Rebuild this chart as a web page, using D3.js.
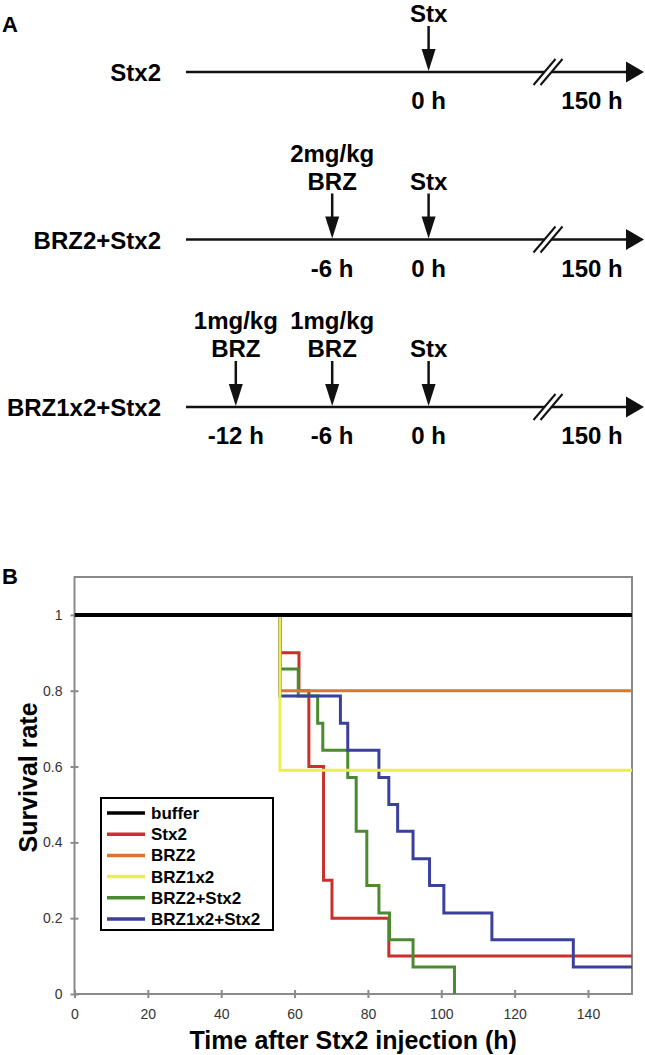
<!DOCTYPE html>
<html>
<head>
<meta charset="utf-8">
<script src="https://cdn.jsdelivr.net/npm/d3@7"></script>
<style>
  html, body { margin: 0; padding: 0; background: #fff; }
  svg { display: block; }
  text { font-family: "Liberation Sans", Arial, Helvetica, sans-serif; }
</style>
</head>
<body>
<svg id="chart" width="645" height="1055"></svg>
<script>
// ---------- Panel A data ----------
const timelineRows = ["Stx2", "BRZ2+Stx2", "BRZ1x2+Stx2"];
const eventRow   = [0, 1, 1, 2, 2, 2];
const eventTime  = [0, -6, 0, -12, -6, 0];
const eventDose  = ["", "2mg/kg", "", "1mg/kg", "1mg/kg", ""];
const eventAgent = ["Stx", "BRZ", "Stx", "BRZ", "BRZ", "Stx"];
const endTimeLabel = "150 h";

// ---------- Panel B data ----------
const seriesNames  = ["buffer", "Stx2", "BRZ2", "BRZ1x2", "BRZ2+Stx2", "BRZ1x2+Stx2"];
const seriesColors = ["#000000", "#c9302b", "#d8782e", "#ecec55", "#4c8a31", "#3b409c"];
const bufferTimes = [0];
const bufferSurv  = [1];
const stx2Times = [0, 56, 61.2, 63.9, 67.9, 70.2, 85.7];
const stx2Surv  = [1, 0.9, 0.8, 0.6, 0.3, 0.2, 0.1];
const brz2Times = [0, 56];
const brz2Surv  = [1, 0.8];
const brz1x2Times = [0, 56];
const brz1x2Surv  = [1, 0.59];
const brz2StxTimes = [0, 56, 61, 66.3, 67.7, 74.5, 76.8, 79.7, 83.0, 85.9, 92.3, 103.6];
const brz2StxSurv  = [1, 0.857, 0.786, 0.714, 0.643, 0.571, 0.429, 0.286, 0.214, 0.143, 0.071, 0];
const brz1x2StxTimes = [0, 56, 72.5, 74.5, 83.0, 85.7, 88.1, 92.3, 96.8, 100.7, 113.8, 136];
const brz1x2StxSurv  = [1, 0.786, 0.714, 0.643, 0.571, 0.5, 0.429, 0.357, 0.286, 0.214, 0.143, 0.071];
const xTicks = [0, 20, 40, 60, 80, 100, 120, 140];
const yTicks = [0, 0.2, 0.4, 0.6, 0.8, 1];
const yTickLabels = ["0", "0.2", "0.4", "0.6", "0.8", "1"];
const xMax = 152, yMax = 1.1;
const xTitle = "Time after Stx2 injection (h)";
const yTitle = "Survival rate";

const svg = d3.select("#chart");

// ================= Panel A =================
svg.append("text").attr("x", 2).attr("y", 32).attr("font-size", 22).attr("font-weight", "bold").text("A");

const tx = d3.scaleLinear().domain([-12, 0]).range([235.8, 428.6]);
const ty = d3.scaleLinear().domain([0, 2]).range([72, 407]);
const lineStart = 186, lineTip = 644;
const fsA = 24;

const gA = svg.append("g");
timelineRows.forEach((name, i) => {
  const y = ty(i);
  gA.append("text").attr("x", 161).attr("y", y + 9).attr("text-anchor", "end")
    .attr("font-size", fsA).attr("font-weight", "bold").text(name);
  gA.append("line").attr("x1", lineStart).attr("x2", lineTip - 14).attr("y1", y).attr("y2", y)
    .attr("stroke", "#111").attr("stroke-width", 2.5);
  gA.append("path").attr("d", `M${lineTip - 18},${y - 10.5} L${lineTip},${y} L${lineTip - 18},${y + 10.5} Z`)
    .attr("fill", "#111");
  // break mark
  const bx = 548;
  gA.append("path").attr("d", `M${bx - 14},${y + 13} L${bx + 8},${y - 13} L${bx + 15},${y - 13} L${bx - 7},${y + 13} Z`)
    .attr("fill", "#fff");
  [-3.5, 3.5].forEach(o => {
    gA.append("line").attr("x1", bx + o - 11).attr("y1", y + 13).attr("x2", bx + o + 11).attr("y2", y - 13)
      .attr("stroke", "#111").attr("stroke-width", 2);
  });
  gA.append("text").attr("x", lineTip - 52).attr("y", y + 37).attr("text-anchor", "middle")
    .attr("font-size", fsA).attr("font-weight", "bold").text(endTimeLabel);
});

eventTime.forEach((t, k) => {
  const x = tx(t), y = ty(eventRow[k]);
  gA.append("line").attr("x1", x).attr("x2", x).attr("y1", y - 46).attr("y2", y - 18)
    .attr("stroke", "#111").attr("stroke-width", 2.5);
  gA.append("path").attr("d", `M${x - 7},${y - 23} L${x},${y - 1} L${x + 7},${y - 23} Z`).attr("fill", "#111");
  gA.append("text").attr("x", x).attr("y", y - 50).attr("text-anchor", "middle")
    .attr("font-size", fsA).attr("font-weight", "bold").text(eventAgent[k]);
  if (eventDose[k]) {
    gA.append("text").attr("x", x).attr("y", y - 78).attr("text-anchor", "middle")
      .attr("font-size", fsA).attr("font-weight", "bold").text(eventDose[k]);
  }
  gA.append("text").attr("x", x).attr("y", y + 37).attr("text-anchor", "middle")
    .attr("font-size", fsA).attr("font-weight", "bold").text(t + " h");
});

// ================= Panel B =================
svg.append("text").attr("x", 2).attr("y", 584).attr("font-size", 22).attr("font-weight", "bold").text("B");

const m = { left: 74.5, right: 632, top: 577, bottom: 994 };
const x = d3.scaleLinear().domain([0, xMax]).range([m.left, m.right]);
const y = d3.scaleLinear().domain([0, yMax]).range([m.bottom, m.top]);

// frame
svg.append("rect").attr("x", m.left).attr("y", m.top).attr("width", m.right - m.left).attr("height", m.bottom - m.top)
  .attr("fill", "none").attr("stroke", "#8a8a8a").attr("stroke-width", 2);

// axes
const yAxis = svg.append("g").attr("transform", `translate(${m.left},0)`)
  .call(d3.axisLeft(y).tickValues(yTicks).tickFormat((d, i) => yTickLabels[i]).tickSize(4).tickPadding(8));
yAxis.select(".domain").remove();
yAxis.selectAll(".tick line").attr("x1", 4).attr("stroke", "#8a8a8a").attr("stroke-width", 2);
yAxis.selectAll(".tick text").attr("font-size", 14).attr("fill", "#333").attr("font-family", "Liberation Sans, Arial, sans-serif");

const xAxis = svg.append("g").attr("transform", `translate(0,${m.bottom})`)
  .call(d3.axisBottom(x).tickValues(xTicks).tickSize(4).tickPadding(11));
xAxis.select(".domain").remove();
xAxis.selectAll(".tick line").attr("y1", -4).attr("stroke", "#8a8a8a").attr("stroke-width", 2);
xAxis.selectAll(".tick text").attr("font-size", 14).attr("fill", "#333").attr("font-family", "Liberation Sans, Arial, sans-serif");

// titles
svg.append("text").attr("x", (m.left + m.right) / 2).attr("y", 1049).attr("text-anchor", "middle")
  .attr("font-size", 25).attr("font-weight", "bold").text(xTitle);
svg.append("text").attr("transform", `translate(37,${(m.top + m.bottom) / 2 - 8}) rotate(-90)`).attr("text-anchor", "middle")
  .attr("font-size", 25).attr("font-weight", "bold").text(yTitle);

// curves
const curveData = [
  { t: bufferTimes, s: bufferSurv, extend: true },
  { t: stx2Times, s: stx2Surv, extend: true },
  { t: brz2Times, s: brz2Surv, extend: true },
  { t: brz1x2Times, s: brz1x2Surv, extend: true },
  { t: brz2StxTimes, s: brz2StxSurv, extend: false },
  { t: brz1x2StxTimes, s: brz1x2StxSurv, extend: true }
];
const lineGen = d3.line().x(d => x(d[0])).y(d => y(d[1])).curve(d3.curveStepAfter);
const drawOrder = [1, 4, 2, 5, 3, 0];
const clip = svg.append("clipPath").attr("id", "plotclip").append("rect")
  .attr("x", m.left).attr("y", m.top).attr("width", m.right - m.left).attr("height", m.bottom - m.top + 2);
const gC = svg.append("g").attr("clip-path", "url(#plotclip)");
drawOrder.forEach(i => {
  const c = curveData[i];
  const pts = c.t.map((t, k) => [t, c.s[k]]);
  if (c.extend) pts.push([xMax, c.s[c.s.length - 1]]);
  gC.append("path").attr("d", lineGen(pts)).attr("fill", "none")
    .attr("stroke", seriesColors[i]).attr("stroke-width", i === 0 ? 4 : 3);
});

// legend
const lg = svg.append("g");
lg.append("rect").attr("x", 101).attr("y", 798).attr("width", 172).attr("height", 132)
  .attr("fill", "#fff").attr("stroke", "#000").attr("stroke-width", 2);
const ly = d3.scaleLinear().domain([0, seriesNames.length - 1]).range([813, 919]);
seriesNames.forEach((n, i) => {
  lg.append("line").attr("x1", 107).attr("x2", 145).attr("y1", ly(i)).attr("y2", ly(i))
    .attr("stroke", seriesColors[i]).attr("stroke-width", 3.5);
  lg.append("text").attr("x", 151).attr("y", ly(i) + 6).attr("font-size", 17).attr("font-weight", "bold").text(n);
});
</script>
</body>
</html>
